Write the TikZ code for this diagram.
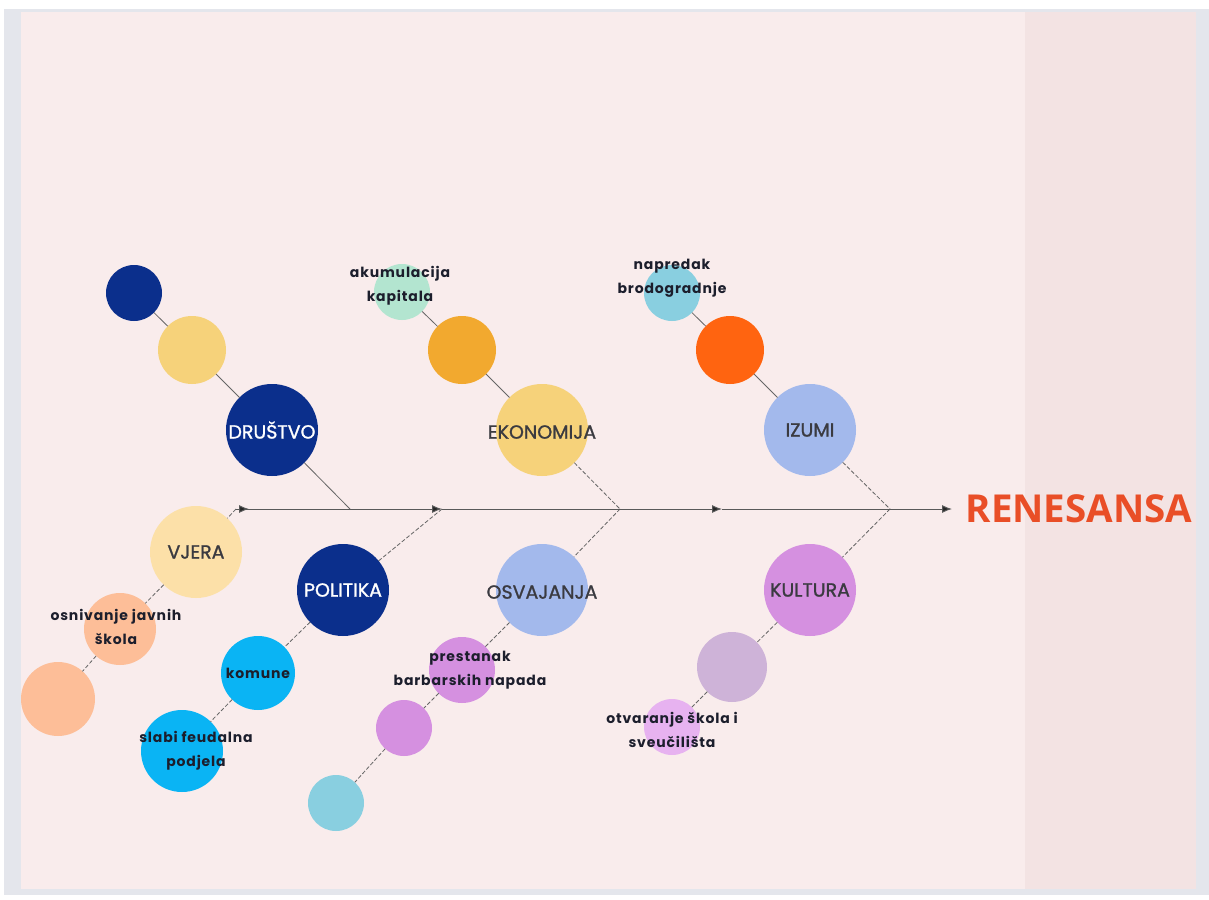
\documentclass[tikz,border=0pt]{standalone}
\usepackage{fontspec}
\usetikzlibrary{arrows.meta,backgrounds}
\newfontfamily\catfont{Poppins}[FakeBold=1.2]
\newfontfamily\labfont{Poppins}[LetterSpace=6]
\newfontfamily\titfont{Open Sans}
\definecolor{pinkA}{HTML}{F9ECEC}
\definecolor{pinkB}{HTML}{F3E3E3}
\definecolor{framec}{HTML}{E4E6EC}
\definecolor{navy}{HTML}{0B2F8C}
\definecolor{yel}{HTML}{F6D27A}
\definecolor{mint}{HTML}{B3E5D0}
\definecolor{orng}{HTML}{F2A92F}
\definecolor{sky}{HTML}{89CFE0}
\definecolor{redor}{HTML}{FF6410}
\definecolor{peri}{HTML}{A3B9EC}
\definecolor{cream}{HTML}{FCE0A8}
\definecolor{peach}{HTML}{FDBE98}
\definecolor{cyan}{HTML}{0AB4F4}
\definecolor{orch}{HTML}{D590E0}
\definecolor{lilac}{HTML}{CEB3D8}
\definecolor{pinkp}{HTML}{E7B2F0}
\definecolor{labc}{HTML}{1C1E2C}
\definecolor{catc}{HTML}{3A3A40}
\definecolor{lnc}{HTML}{666666}
\definecolor{titc}{HTML}{E94E27}
\tikzset{
  bub/.style={circle, inner sep=0pt, outer sep=0pt},
  br/.style={draw=lnc, line width=0.8pt},
  brd/.style={draw=lnc, line width=0.8pt, dash pattern=on 4pt off 2pt},
  spine/.style={draw=black!65, line width=1pt},
  tip/.style={-{Latex[length=10pt,width=8pt,fill=black!85]}},
  cat/.style={font=\catfont\fontsize{19}{22}\selectfont, text=catc, inner sep=0pt},
  catw/.style={cat, text=white},
  lab/.style={font=\labfont\bfseries\fontsize{14}{24}\selectfont, text=labc, align=center, inner sep=0pt}
}
\begin{document}
\begin{tikzpicture}[x=1pt,y=-1pt]
\useasboundingbox (0,0) rectangle (1209,899);
% background
\fill[white] (0,0) rectangle (1209,899);
\fill[framec] (4,9) rectangle (1209,895);
\fill[pinkA] (21,12) rectangle (1025,889);
\fill[pinkB] (1025,12) rectangle (1196,889);

% spine coordinates
\coordinate (j0) at (236,509);
\coordinate (jD) at (350,509);
\coordinate (jP) at (442,509);
\coordinate (jE) at (620,509);
\coordinate (a3) at (722,509);
\coordinate (jI) at (890,509);
\coordinate (jend) at (952,509);

% bubbles upper
\node[bub, fill=navy, minimum size=56] (u1a) at (134,293) {};
\node[bub, fill=yel, minimum size=68] (u1b) at (192,350) {};
\node[bub, fill=navy, minimum size=92] (drus) at (272,430) {};
\node[bub, fill=mint, minimum size=56] (u2a) at (402,292) {};
\node[bub, fill=orng, minimum size=68] (u2b) at (462,350) {};
\node[bub, fill=yel, minimum size=92] (ekon) at (542,430) {};
\node[bub, fill=sky, minimum size=56] (u3a) at (672,293) {};
\node[bub, fill=redor, minimum size=68] (u3b) at (730,350) {};
\node[bub, fill=peri, minimum size=92] (izum) at (810,430) {};
% bubbles lower
\node[bub, fill=cream, minimum size=92] (vjer) at (196,552) {};
\node[bub, fill=peach, minimum size=72] (l1a) at (120,629) {};
\node[bub, fill=peach, minimum size=74] (l1b) at (58,699) {};
\node[bub, fill=navy, minimum size=92] (poli) at (343,590) {};
\node[bub, fill=cyan, minimum size=74] (l2a) at (258,673) {};
\node[bub, fill=cyan, minimum size=82] (l2b) at (182,751) {};
\node[bub, fill=peri, minimum size=92] (osva) at (542,590) {};
\node[bub, fill=orch, minimum size=66] (l3a) at (462,670) {};
\node[bub, fill=orch, minimum size=56] (l3b) at (404,728) {};
\node[bub, fill=sky, minimum size=56] (l3c) at (336,803) {};
\node[bub, fill=orch, minimum size=92] (kult) at (810,590) {};
\node[bub, fill=lilac, minimum size=70] (l4a) at (732,667) {};
\node[bub, fill=pinkp, minimum size=56] (l4b) at (672,727) {};

% branch connectors
\draw[br] (u1a) -- (u1b);
\draw[br] (u1b) -- (drus);
\draw[br] (drus) -- (jD);
\draw[br] (u2a) -- (u2b);
\draw[br] (u2b) -- (ekon);
\draw[brd] (ekon) -- (jE);
\draw[br] (u3a) -- (u3b);
\draw[br] (u3b) -- (izum);
\draw[brd] (izum) -- (jI);
\draw[brd] (j0) -- (vjer);
\draw[brd] (vjer) -- (l1a);
\draw[brd] (l1a) -- (l1b);
\draw[brd] (jP) -- (poli);
\draw[brd] (poli) -- (l2a);
\draw[brd] (l2a) -- (l2b);
\draw[brd] (jE) -- (osva);
\draw[brd] (osva) -- (l3a);
\draw[brd] (l3a) -- (l3b);
\draw[brd] (l3b) -- (l3c);
\draw[brd] (jI) -- (kult);
\draw[brd] (kult) -- (l4a);
\draw[brd] (l4a) -- (l4b);

% spine
\draw[spine] (j0) -- (jD);
\draw[spine, tip] (j0) -- ++(13,0);
\draw[spine, tip] (jD) -- (jP);
\draw[spine] (jP) -- (jE);
\draw[spine, tip] (jE) -- (a3);
\draw[spine] (a3) -- (jI);
\draw[spine, tip] (jI) -- (jend);

% category texts
\node[catw] (tdrus) at (272,430) {DRUŠTVO};
\node[cat] (tekon) at (542,432) {EKONOMIJA};
\node[cat] (tizum) at (810,430) {IZUMI};
\node[cat] (tvjer) at (196,552) {VJERA};
\node[catw] (tpoli) at (343,590) {POLITIKA};
\node[cat] (tosva) at (542,592) {OSVAJANJA};
\node[cat] (tkult) at (810,590) {KULTURA};

% labels
\node[lab] (tu2a) at (400,286) {akumulacija\\kapitala};
\node[lab] (tu3a) at (672,278) {napredak\\brodogradnje};
\node[lab] (tl1a) at (116,627) {osnivanje javnih\\škola};
\node[lab] (tl2a) at (258,673) {komune};
\node[lab] (tl2b) at (196,751) {slabi feudalna\\podjela};
\node[lab] (tl3a) at (470,670) {prestanak\\barbarskih napada};
\node[lab] (tl4b) at (672,730) {otvaranje škola i\\sveučilišta};

% title
\node[font=\titfont\bfseries\fontsize{38.5}{42}\selectfont, text=titc, inner sep=0pt] (ren) at (1079,509) {RENESANSA};
\end{tikzpicture}
\end{document}
